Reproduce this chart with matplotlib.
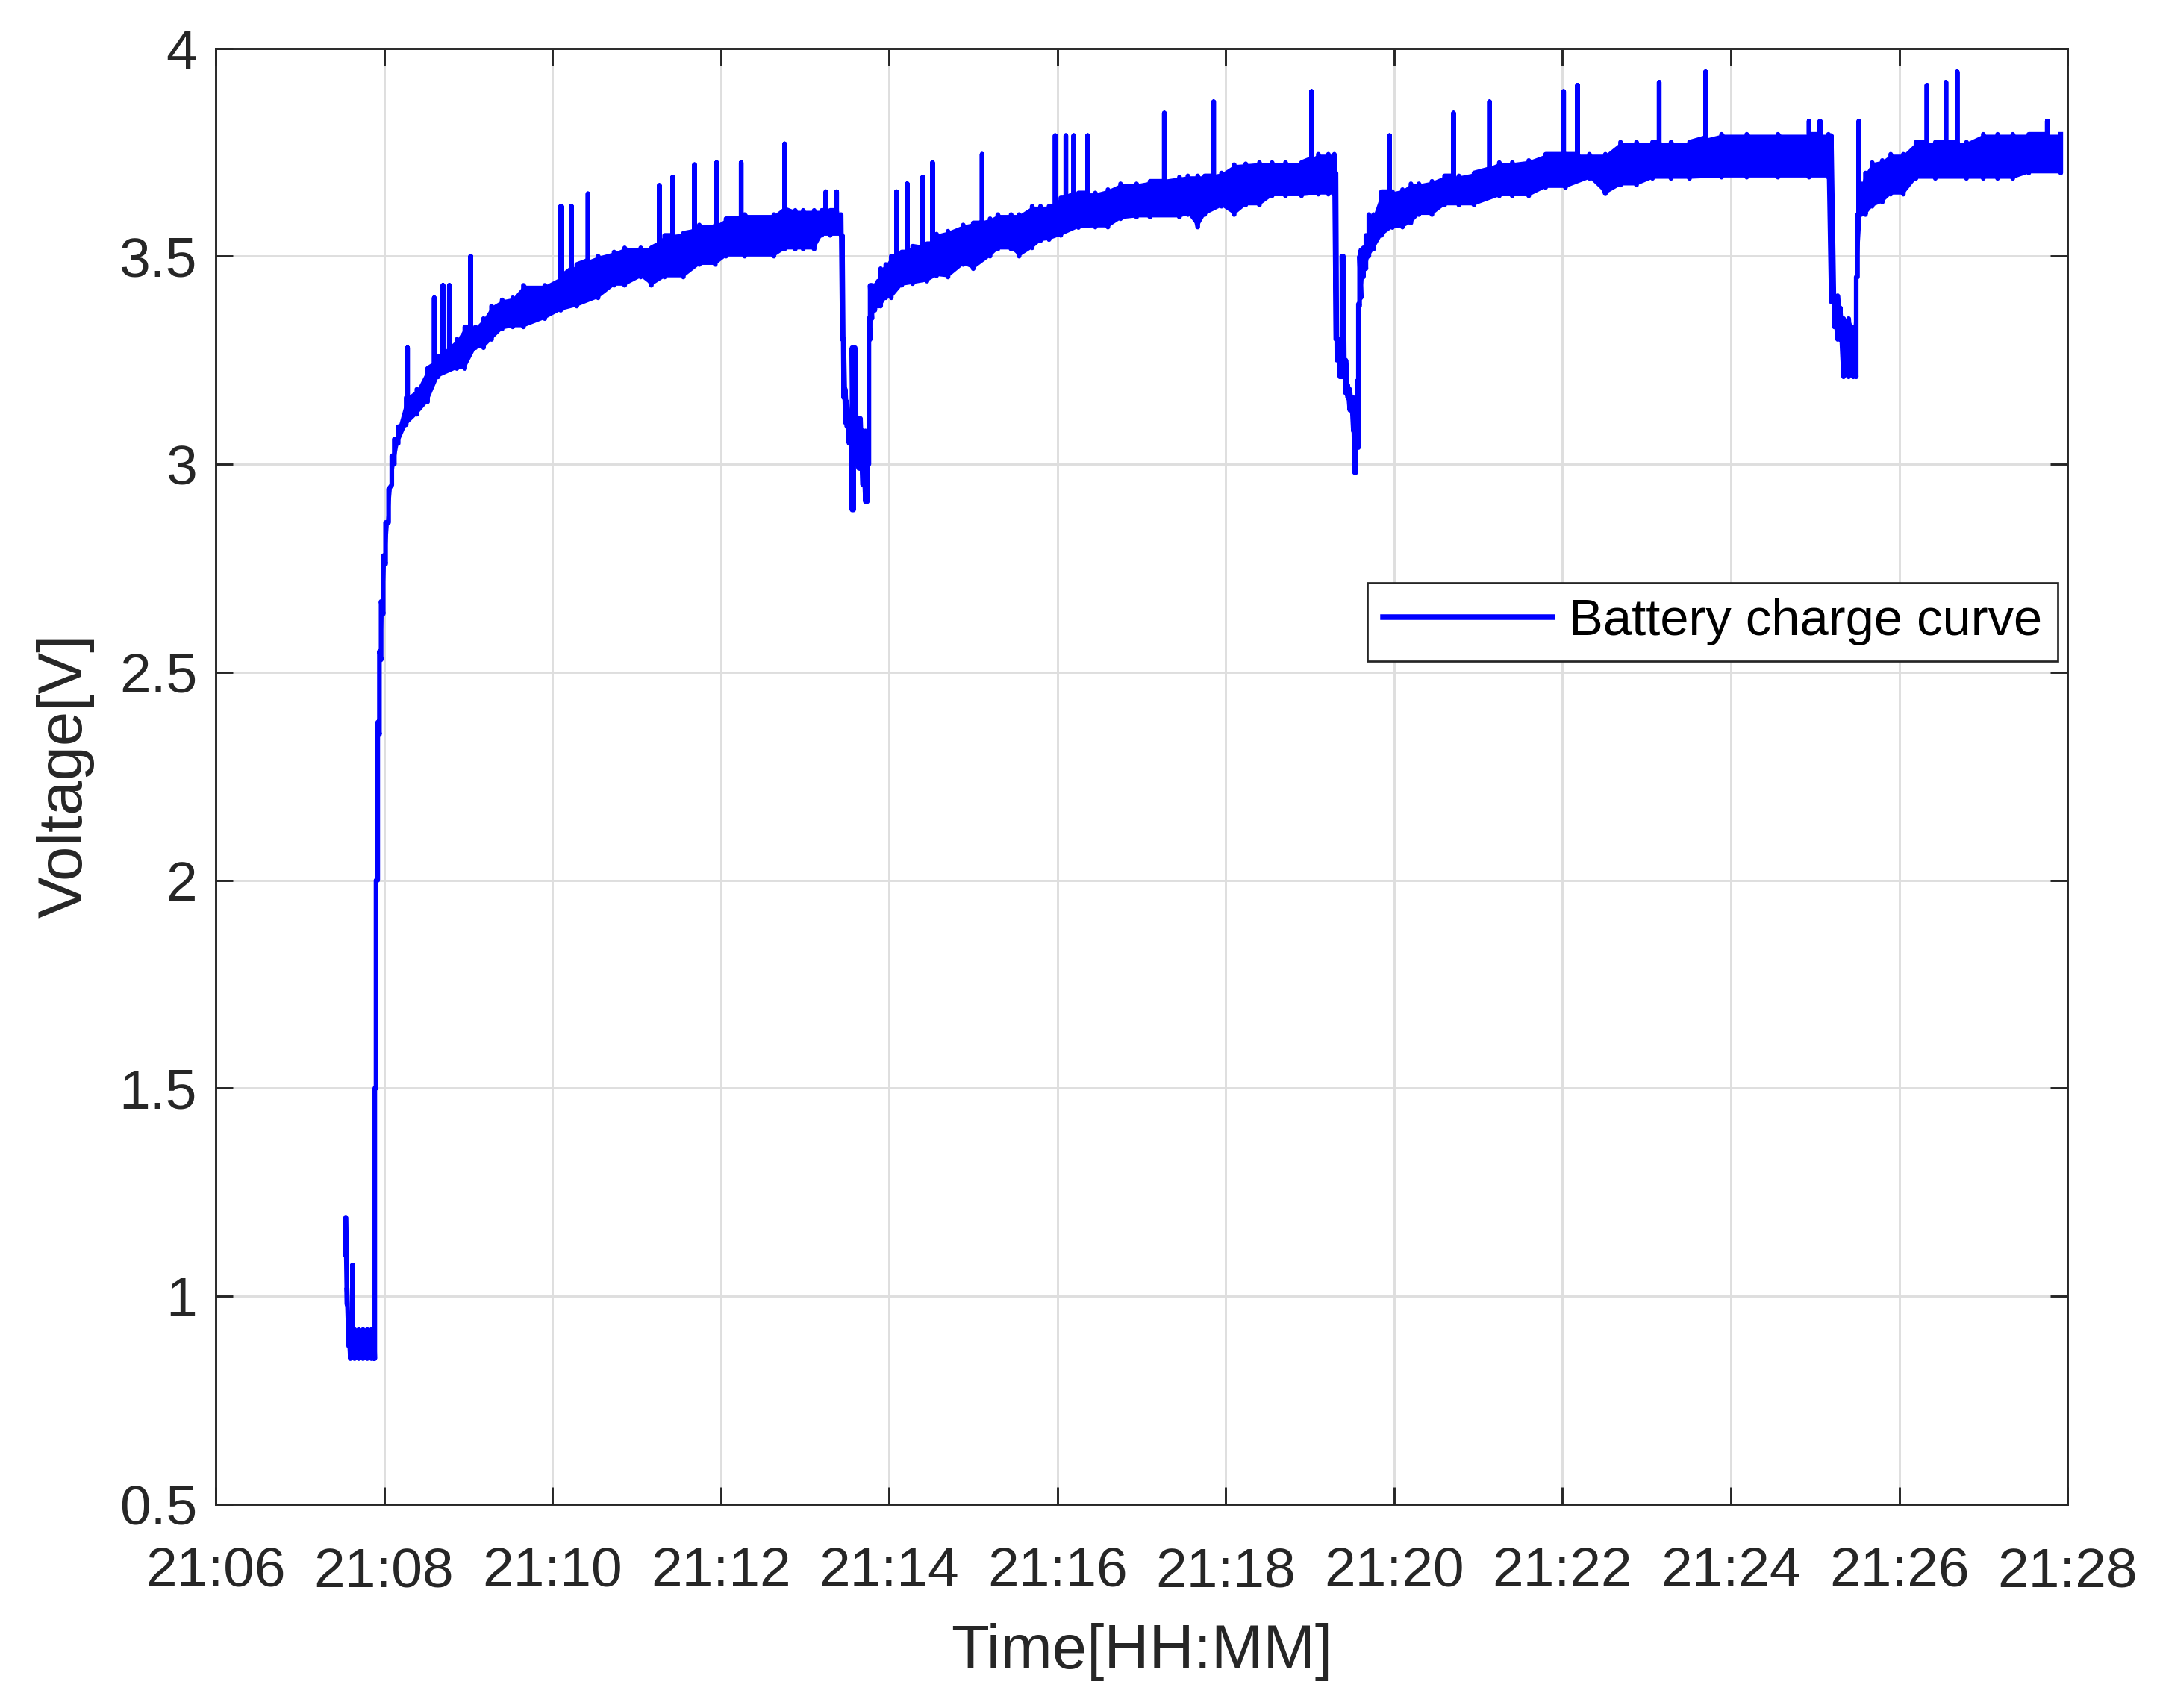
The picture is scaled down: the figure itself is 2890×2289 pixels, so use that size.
import matplotlib
matplotlib.use('Agg')
import matplotlib.pyplot as plt
import matplotlib.dates as mdates
import numpy as np
import pandas as pd

# Battery voltage: minutes after 21:06, lower/upper edge of the noisy trace
band_t = [1.545, 1.560, 1.580, 1.600, 1.650, 1.700, 1.750, 1.800, 1.850, 1.880,
          1.890, 1.905, 1.925, 1.945, 1.965, 1.990, 2.018, 2.054, 2.092, 2.122, 2.168,
          2.263, 2.390, 2.517, 2.643, 2.865, 2.960, 3.086, 3.182, 3.277, 3.403, 3.529, 3.656, 3.910,
          4.099, 4.290, 4.543, 4.733, 4.859, 5.050, 5.176, 5.334, 5.556, 5.746, 5.936, 6.063, 6.285,
          6.632, 6.759, 6.886, 6.980, 7.110, 7.200, 7.300, 7.430,
          7.445, 7.461, 7.480, 7.500, 7.525, 7.545, 7.560, 7.578, 7.597, 7.615, 7.640, 7.660,
          7.687, 7.719, 7.741, 7.760, 7.775, 7.796, 7.831, 7.870, 7.900,
          7.961, 8.026, 8.150, 8.280, 8.450, 8.564, 8.700, 8.881, 9.000, 9.200, 9.292, 9.450,
          9.545, 9.700, 9.799, 9.900, 10.04, 10.25, 10.45, 10.60, 10.75, 10.94, 11.10, 11.45,
          11.55, 11.667, 11.75, 11.95, 12.10, 12.237, 12.40, 12.55, 12.71, 12.90, 13.10, 13.219, 13.29,
          13.309, 13.320, 13.340, 13.356, 13.380, 13.397, 13.410, 13.427, 13.450, 13.474, 13.495,
          13.516, 13.530, 13.546, 13.560, 13.576, 13.590, 13.606, 13.635, 13.665, 13.70, 13.756,
          13.85, 13.98, 14.10, 14.20, 14.295, 14.45, 14.60, 14.77, 14.95, 15.25, 15.404, 15.60,
          15.80, 16.036, 16.32, 16.51, 16.69, 16.88, 17.07, 17.29, 17.51, 17.89, 18.19, 18.56,
          18.93, 19.16,
          19.194, 19.23, 19.27, 19.30, 19.34, 19.40, 19.455, 19.49, 19.505, 19.549, 19.60, 19.68,
          19.80, 19.90, 20.05, 20.20, 20.43, 20.80, 21.00, 21.17, 21.35, 21.54, 21.92]
band_lo = [1.10, 0.98, 0.88, 0.85, 0.85, 0.85, 0.85, 0.85, 0.85, 0.85,
           0.85, 1.50, 2.00, 2.35, 2.53, 2.64, 2.76, 2.86, 2.95, 3.00, 3.05,
           3.095, 3.12, 3.15, 3.21, 3.23, 3.23, 3.28, 3.28, 3.30, 3.325, 3.33, 3.33, 3.35,
           3.37, 3.38, 3.40, 3.43, 3.43, 3.45, 3.43, 3.45, 3.45, 3.48, 3.48, 3.50, 3.50,
           3.50, 3.517, 3.517, 3.517, 3.517, 3.55, 3.55, 3.55,
           3.30, 3.16, 3.10, 3.09, 3.05, 3.05, 2.89, 2.89, 3.00, 3.00, 2.99, 2.99,
           2.95, 2.91, 2.91, 3.00, 3.30, 3.35, 3.37, 3.38, 3.38,
           3.40, 3.40, 3.43, 3.434, 3.44, 3.453, 3.45, 3.48, 3.47, 3.50, 3.517, 3.517,
           3.50, 3.52, 3.537, 3.54, 3.55, 3.569, 3.57, 3.57, 3.59, 3.594, 3.594, 3.594,
           3.60, 3.57, 3.60, 3.62, 3.60, 3.623, 3.623, 3.645, 3.645, 3.645, 3.649, 3.649, 3.649,
           3.30, 3.25, 3.25, 3.21, 3.21, 3.21, 3.21, 3.17, 3.16, 3.13, 3.13,
           3.08, 2.98, 2.98, 3.04, 3.04, 3.38, 3.40, 3.45, 3.47, 3.50, 3.517,
           3.55, 3.569, 3.57, 3.58, 3.60, 3.60, 3.623, 3.623, 3.623, 3.645, 3.645, 3.645,
           3.665, 3.665, 3.687, 3.65, 3.671, 3.671, 3.687, 3.687, 3.687, 3.69, 3.69, 3.69,
           3.69, 3.69,
           3.39, 3.33, 3.30, 3.30, 3.21, 3.21, 3.21, 3.21, 3.45, 3.60, 3.60, 3.62,
           3.63, 3.649, 3.649, 3.687, 3.687, 3.687, 3.687, 3.687, 3.687, 3.70, 3.70]
band_hi = [1.19, 1.02, 0.93, 0.90, 0.92, 0.92, 0.92, 0.92, 0.92, 0.92,
           1.50, 2.00, 2.38, 2.55, 2.67, 2.78, 2.86, 2.94, 3.02, 3.06, 3.09,
           3.16, 3.18, 3.23, 3.26, 3.30, 3.33, 3.33, 3.35, 3.38, 3.395, 3.40, 3.43, 3.43,
           3.45, 3.48, 3.50, 3.51, 3.52, 3.52, 3.52, 3.55, 3.555, 3.575, 3.575, 3.59, 3.60,
           3.60, 3.62, 3.61, 3.61, 3.61, 3.61, 3.61, 3.60,
           3.55, 3.30, 3.18, 3.15, 3.12, 3.10, 3.28, 3.28, 3.28, 3.10, 3.11, 3.11,
           3.08, 3.08, 3.00, 3.35, 3.43, 3.43, 3.43, 3.44, 3.47,
           3.48, 3.50, 3.51, 3.524, 3.53, 3.553, 3.56, 3.575, 3.58, 3.59, 3.60, 3.60,
           3.60, 3.62, 3.62, 3.62, 3.64, 3.652, 3.652, 3.66, 3.674, 3.674, 3.68, 3.69,
           3.693, 3.693, 3.693, 3.70, 3.72, 3.722, 3.725, 3.725, 3.725, 3.725, 3.745, 3.745, 3.745,
           3.70, 3.30, 3.30, 3.30, 3.50, 3.50, 3.25, 3.25, 3.19, 3.18, 3.16,
           3.16, 3.05, 3.04, 3.20, 3.385, 3.50, 3.515, 3.52, 3.55, 3.60, 3.60,
           3.655, 3.655, 3.66, 3.674, 3.674, 3.68, 3.693, 3.693, 3.70, 3.725, 3.725, 3.73,
           3.745, 3.745, 3.745, 3.745, 3.774, 3.774, 3.774, 3.774, 3.774, 3.793, 3.793, 3.793,
           3.793, 3.793,
           3.79, 3.39, 3.405, 3.376, 3.35, 3.35, 3.33, 3.45, 3.60, 3.674, 3.70, 3.725,
           3.73, 3.745, 3.745, 3.774, 3.774, 3.774, 3.793, 3.793, 3.793, 3.793, 3.793]

# single-sample spikes: time, level it jumps from, peak
spike_t = [1.625, 2.279, 2.596, 2.700, 2.776, 3.029, 4.100, 4.226, 4.423, 5.271, 5.429, 5.689,
           5.952, 6.243, 6.759, 7.250, 7.377, 8.089, 8.216, 8.400, 8.516, 9.105, 9.973, 10.100,
           10.194, 10.360, 11.270, 11.856, 13.020, 13.946, 14.706, 15.134, 16.014, 16.179,
           17.149, 17.700, 18.930, 19.060, 19.522, 20.330, 20.556, 20.690, 21.760]
spike_base = [0.90, 3.16, 3.24, 3.26, 3.27, 3.33, 3.45, 3.47, 3.49, 3.53, 3.55, 3.56,
              3.575, 3.59, 3.61, 3.61, 3.61, 3.50, 3.51, 3.52, 3.53, 3.58, 3.62, 3.64,
              3.65, 3.652, 3.68, 3.693, 3.735, 3.655, 3.693, 3.71, 3.745, 3.745,
              3.774, 3.785, 3.793, 3.793, 3.60, 3.774, 3.774, 3.774, 3.793]
spike_v = [1.075, 3.28, 3.40, 3.43, 3.43, 3.50, 3.62, 3.62, 3.65, 3.67, 3.69, 3.72,
           3.725, 3.725, 3.77, 3.655, 3.655, 3.655, 3.674, 3.69, 3.725, 3.745, 3.79, 3.79,
           3.79, 3.79, 3.844, 3.871, 3.896, 3.79, 3.844, 3.871, 3.896, 3.911,
           3.918, 3.943, 3.825, 3.825, 3.825, 3.911, 3.918, 3.943, 3.825]

start = pd.Timestamp('2021-01-01 21:06:00')
x_ticks = ['21:06', '21:08', '21:10', '21:12', '21:14', '21:16', '21:18',
           '21:20', '21:22', '21:24', '21:26', '21:28']


def to_num(minutes):
    return mdates.date2num(start + pd.to_timedelta(np.asarray(minutes), unit='min'))


# trace: each band row goes low -> high, each spike goes base -> peak -> base
pts = [(t, [lo, hi]) for t, lo, hi in zip(band_t, band_lo, band_hi)]
pts += [(t, [b, v, b]) for t, b, v in zip(spike_t, spike_base, spike_v)]
pts.sort(key=lambda p: p[0])
line_t, line_v = [], []
for t, vals in pts:
    for v in vals:
        line_t.append(t)
        line_v.append(v)

plt.rcParams['font.family'] = ['Liberation Sans', 'DejaVu Sans']
dark = '#262626'

fig = plt.figure(figsize=(2890 / 300, 2289 / 300), dpi=300)
ax = fig.add_axes([0.1, 0.1193, 0.8585, 0.8525])

ax.fill_between(to_num(band_t), band_lo, band_hi, color='blue', linewidth=0)
ax.plot(to_num(line_t), line_v, color='blue', linewidth=1.5, label='Battery charge curve')

ax.set_xlim(to_num([0])[0], to_num([22])[0])
ax.set_ylim(0.5, 4)
ax.set_xticks(to_num(np.arange(0, 23, 2)))
ax.set_xticklabels(x_ticks)
ax.set_yticks(np.arange(0.5, 4.01, 0.5))
ax.yaxis.set_major_formatter('{x:g}')

ax.grid(True, color='#dedede', linewidth=0.7)
ax.set_axisbelow(True)
for s in ax.spines.values():
    s.set_color(dark)
    s.set_linewidth(0.7)
ax.tick_params(direction='in', length=5.5, width=0.7, color=dark, labelcolor=dark,
               labelsize=18, top=True, right=True)
ax.tick_params(axis='x', pad=13.5)
ax.tick_params(axis='y', pad=6)

ax.set_xlabel('Time[HH:MM]', fontsize=20, color=dark, labelpad=8)
ax.set_ylabel('Voltage[V]', fontsize=20, color=dark, labelpad=8)

leg = ax.legend(loc='upper right', bbox_to_anchor=(0.9948, 0.633), borderaxespad=0,
                fontsize=16.5, handlelength=3.3, handletextpad=0.33, borderpad=0.3,
                fancybox=False, framealpha=1, edgecolor=dark)
leg.get_frame().set_linewidth(0.65)
for line in leg.get_lines():
    line.set_linewidth(1.8)
for txt in leg.get_texts():
    txt.set_color('black')

plt.savefig('out.png', dpi=300)
